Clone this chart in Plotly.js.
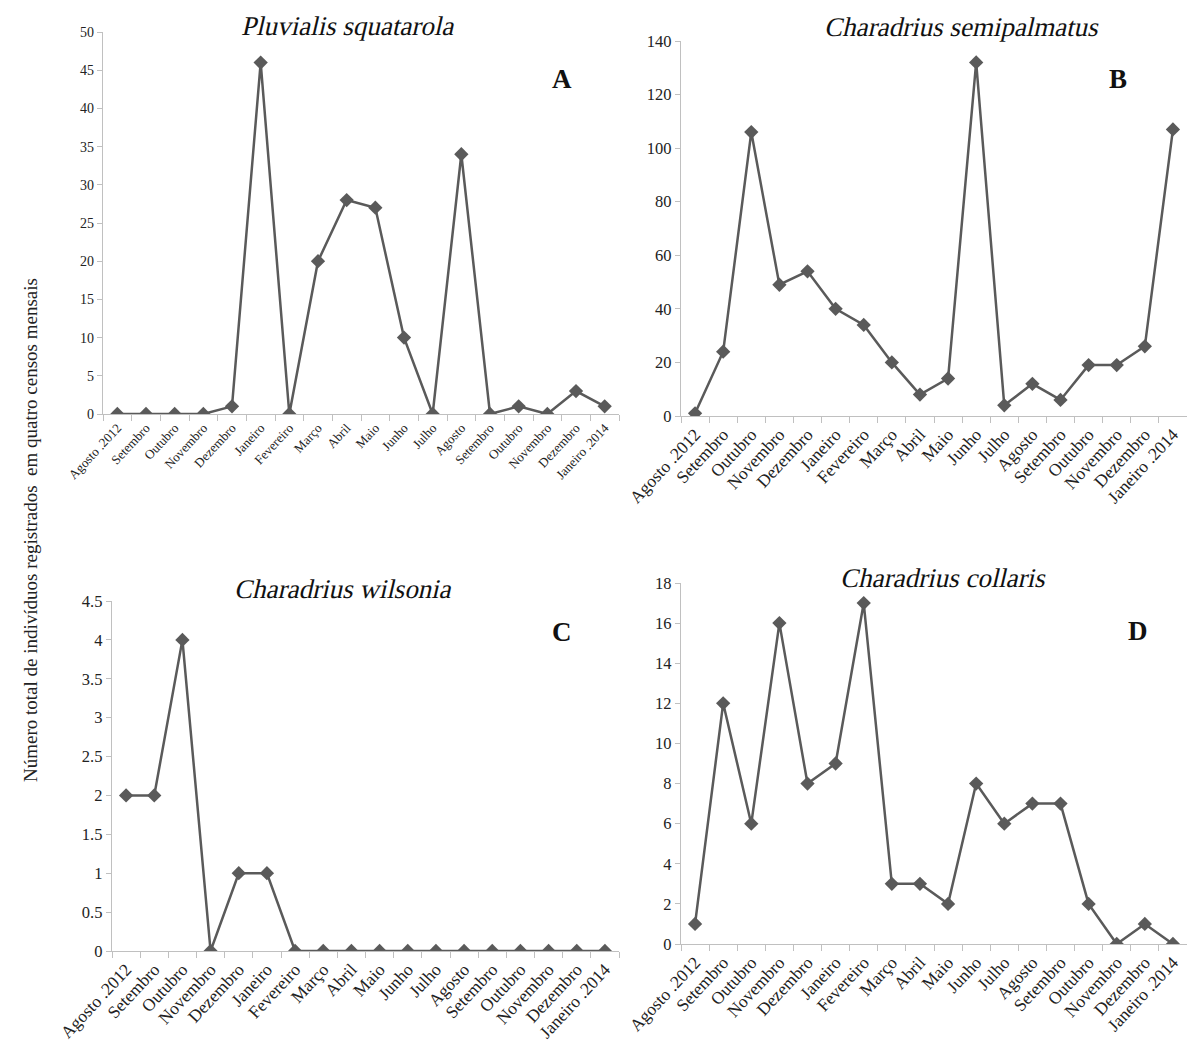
<!DOCTYPE html>
<html>
<head>
<meta charset="utf-8">
<script src="https://cdn.plot.ly/plotly-3.0.1.min.js"></script>
<style>html,body{margin:0;padding:0;background:#fff}#chart{width:1187px;height:1055px}
.skewed{transform-box:fill-box;transform-origin:center;transform:skewX(-13deg)}</style>
</head>
<body>
<div id="chart"></div>
<script>
// Month labels (shared by all panels)
const months = ["Agosto .2012","Setembro","Outubro","Novembro","Dezembro","Janeiro","Fevereiro","Março","Abril","Maio","Junho","Julho","Agosto","Setembro","Outubro","Novembro","Dezembro","Janeiro .2014"];

// Series values
const pluvialisSquatarola   = [0,0,0,0,1,46,0,20,28,27,10,0,34,0,1,0,3,1];
const charadriusSemipalmatus = [1,24,106,49,54,40,34,20,8,14,132,4,12,6,19,19,26,107];
const charadriusWilsonia    = [2,2,4,0,1,1,0,0,0,0,0,0,0,0,0,0,0,0];
const charadriusCollaris    = [1,12,6,16,8,9,17,3,3,2,8,6,7,7,2,0,1,0];

const speciesTitles = ["Pluvialis squatarola","Charadrius semipalmatus","Charadrius wilsonia","Charadrius collaris"];
const panelLetters = ["A","B","C","D"];
const yTitle = "Número total de indivíduos registrados  em quatro censos mensais";

const W = 1187, H = 1055;
const idx = months.map((_, i) => i);
const bounds = months.map((_, i) => i - 0.5).concat([months.length - 0.5]);

const series = [pluvialisSquatarola, charadriusSemipalmatus, charadriusWilsonia, charadriusCollaris];
const lineColor = "#5a5a5a";
const axisColor = "#c0c0c0";
const serif = "Liberation Serif";

// panel geometry in pixels: [left, right, top, bottom]
const geo = [
  [103, 619, 32, 414],
  [681, 1187, 41, 416],
  [112, 619, 601, 951],
  [681, 1187, 583, 944]
];
const yRanges = [[0,50],[0,140],[0,4.5],[0,18]];
const yDticks = [5,20,0.5,2];
const xFont = [13, 17.5, 17.5, 17.5];
const yFont = [14, 16.5, 16.5, 16.5];

const data = series.map((s, k) => ({
  x: idx, y: s,
  xaxis: k === 0 ? "x" : "x" + (k + 1),
  yaxis: k === 0 ? "y" : "y" + (k + 1),
  type: "scatter", mode: "lines+markers",
  line: {color: lineColor, width: 2.5},
  marker: {symbol: "diamond", size: 11, color: lineColor},
  showlegend: false, hoverinfo: "x+y"
}));

const layout = {
  width: W, height: H,
  margin: {l: 0, r: 0, t: 0, b: 0},
  paper_bgcolor: "#fff", plot_bgcolor: "#fff",
  font: {family: serif, color: "#222"},
  annotations: []
};

geo.forEach((g, k) => {
  const xa = k === 0 ? "xaxis" : "xaxis" + (k + 1);
  const ya = k === 0 ? "yaxis" : "yaxis" + (k + 1);
  layout[xa] = {
    domain: [g[0] / W, g[1] / W],
    anchor: k === 0 ? "y" : "y" + (k + 1),
    range: [-0.5, months.length - 0.5],
    tickmode: "array", tickvals: idx, ticktext: months,
    tickangle: -47, ticks: "", ticklen: 0,
    tickfont: {family: serif, size: xFont[k], color: "#222"},
    minor: {tickmode: "array", tickvals: bounds, ticks: "outside", ticklen: 6, tickcolor: axisColor, showgrid: false},
    showline: true, linecolor: axisColor, linewidth: 1.3,
    showgrid: false, zeroline: false, fixedrange: true
  };
  layout[ya] = {
    domain: [1 - g[3] / H, 1 - g[2] / H],
    anchor: k === 0 ? "x" : "x" + (k + 1),
    range: yRanges[k], dtick: yDticks[k], tick0: 0,
    ticks: "outside", ticklen: 5, tickcolor: axisColor,
    tickfont: {family: serif, size: yFont[k], color: "#222"},
    showline: true, linecolor: axisColor, linewidth: 1.3,
    showgrid: false, zeroline: false, fixedrange: true
  };
});

const titlePos = [[349, 26], [963, 27], [344, 589], [944, 578]];
const letterPos = [[562, 79], [1118, 79], [562, 632], [1138, 631]];

titlePos.forEach((p, k) => {
  layout.annotations.push({
    xref: "paper", yref: "paper", x: p[0] / W, y: 1 - p[1] / H,
    xanchor: "center", yanchor: "middle", showarrow: false,
    text: speciesTitles[k],
    font: {family: serif, size: 27, color: "#111"}
  });
  layout.annotations.push({
    xref: "paper", yref: "paper", x: letterPos[k][0] / W, y: 1 - letterPos[k][1] / H,
    xanchor: "center", yanchor: "middle", showarrow: false,
    text: "<b>" + panelLetters[k] + "</b>",
    font: {family: serif, size: 27, color: "#111"}
  });
});

layout.annotations.push({
  xref: "paper", yref: "paper", x: 30 / W, y: 1 - 530 / H,
  xanchor: "center", yanchor: "middle", showarrow: false, textangle: -90,
  text: yTitle,
  font: {family: serif, size: 19, color: "#222"}
});

Plotly.newPlot("chart", data, layout, {displayModeBar: false, staticPlot: true}).then(gd => {
  // the installed serif has no italic face, so slant the species names
  gd.querySelectorAll("g.annotation").forEach(g => {
    const i = +g.getAttribute("data-index");
    if (i % 2 === 0 && i < 8) {
      const t = g.querySelector("text.annotation-text");
      if (t) t.classList.add("skewed");
    }
  });
});
</script>
</body>
</html>
